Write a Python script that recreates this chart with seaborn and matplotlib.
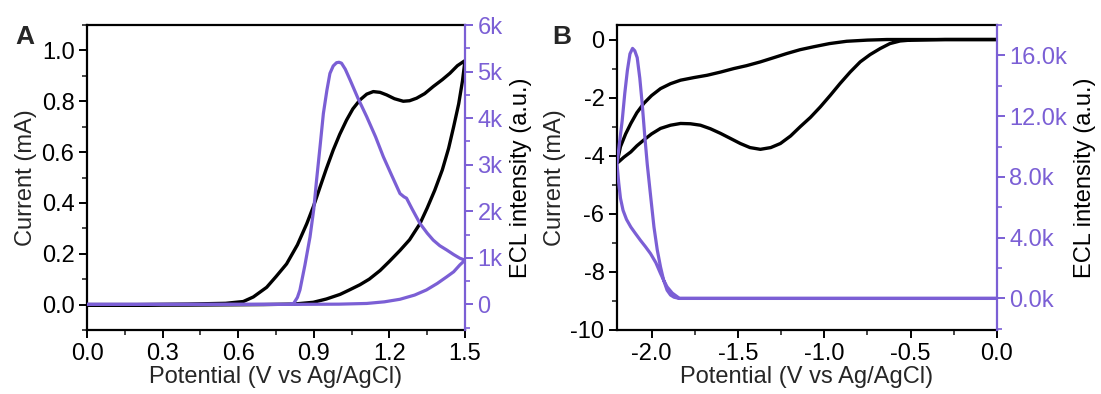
import numpy as np
import pandas as pd
import matplotlib
matplotlib.use("Agg")
import matplotlib.pyplot as plt
import seaborn as sns
from matplotlib.ticker import MultipleLocator, FuncFormatter

# ---------------- Data ----------------
# Panel A: CV current (mA) vs potential (V)
a_cv_fwd_x = [0.0, 0.2, 0.4, 0.55, 0.62, 0.66, 0.713, 0.75, 0.792, 0.835, 0.872, 0.90, 0.925,
              0.95, 0.977, 1.003, 1.03, 1.055, 1.083, 1.11, 1.136, 1.163, 1.189, 1.22, 1.255,
              1.28, 1.308, 1.34, 1.374, 1.41, 1.44, 1.47, 1.5]
a_cv_fwd_y = [0.0, 0.0, 0.002, 0.005, 0.012, 0.03, 0.068, 0.11, 0.16, 0.235, 0.318, 0.39, 0.463,
              0.535, 0.608, 0.67, 0.726, 0.77, 0.805, 0.828, 0.838, 0.835, 0.825, 0.81, 0.80,
              0.802, 0.812, 0.83, 0.858, 0.885, 0.91, 0.94, 0.96]
a_cv_rev_x = [1.5, 1.49, 1.475, 1.455, 1.435, 1.41, 1.38, 1.35, 1.321, 1.28, 1.242, 1.20, 1.163,
              1.12, 1.083, 1.04, 1.004, 0.95, 0.898, 0.82, 0.7, 0.4, 0.0]
a_cv_rev_y = [0.96, 0.88, 0.79, 0.70, 0.615, 0.53, 0.45, 0.38, 0.318, 0.255, 0.213, 0.17, 0.134,
              0.10, 0.078, 0.057, 0.04, 0.022, 0.009, 0.002, 0.0, -0.002, -0.003]

# Panel A: ECL intensity (counts) vs potential
a_ecl_fwd_x = [0.0, 0.5, 0.80, 0.82, 0.835, 0.845, 0.865, 0.885, 0.90, 0.911, 0.925, 0.938, 0.952,
               0.964, 0.977, 0.99, 1.0, 1.01, 1.025, 1.044, 1.075, 1.11, 1.145, 1.176, 1.21,
               1.242, 1.258, 1.268, 1.29, 1.321, 1.35, 1.374, 1.40, 1.427, 1.455, 1.48, 1.5]
a_ecl_fwd_y = [0, 0, 0, 20, 150, 310, 850, 1450, 2050, 2670, 3400, 4100, 4600,
               4960, 5120, 5190, 5200, 5180, 5050, 4820, 4430, 4030, 3600, 3170, 2760,
               2380, 2310, 2280, 2050, 1740, 1530, 1380, 1260, 1170, 1070, 990, 950]
a_ecl_rev_x = [1.5, 1.48, 1.455, 1.427, 1.39, 1.347, 1.30, 1.242, 1.18, 1.11, 1.0, 0.8, 0.0]
a_ecl_rev_y = [950, 850, 700, 590, 450, 310, 200, 110, 55, 20, 5, 0, 0]

# Panel B: CV current (mA)
b_cv_fwd_x = [0.0, -0.3, -0.5, -0.561, -0.62, -0.676, -0.735, -0.792, -0.85, -0.908, -0.965,
              -1.023, -1.08, -1.139, -1.195, -1.254, -1.31, -1.37, -1.43, -1.486, -1.545,
              -1.601, -1.66, -1.717, -1.775, -1.832, -1.89, -1.948, -2.0, -2.045, -2.085,
              -2.12, -2.16, -2.19, -2.2]
b_cv_fwd_y = [0.0, 0.0, -0.02, -0.05, -0.14, -0.31, -0.52, -0.77, -1.12, -1.51, -1.92,
              -2.32, -2.68, -3.0, -3.32, -3.58, -3.72, -3.78, -3.72, -3.58, -3.40,
              -3.23, -3.07, -2.95, -2.90, -2.89, -2.95, -3.06, -3.25, -3.46, -3.66,
              -3.87, -4.05, -4.21, -4.25]
b_cv_rev_x = [-2.2, -2.18, -2.15, -2.12, -2.085, -2.045, -2.0, -1.948, -1.89, -1.832, -1.755,
              -1.678, -1.60, -1.524, -1.45, -1.37, -1.29, -1.216, -1.14, -1.062, -0.97,
              -0.87, -0.75, -0.637, -0.3, 0.0]
b_cv_rev_y = [-4.25, -3.69, -3.25, -2.89, -2.52, -2.2, -1.93, -1.69, -1.52, -1.40, -1.31,
              -1.23, -1.12, -1.0, -0.90, -0.77, -0.62, -0.48, -0.35, -0.25, -0.14,
              -0.06, -0.02, 0.0, 0.0, 0.0]

# Panel B: ECL intensity (counts)
b_ecl_fwd_x = [0.0, -1.0, -1.84, -1.85, -1.88, -1.91, -1.93, -1.948, -1.975, -2.006, -2.035,
               -2.064, -2.095, -2.12, -2.145, -2.165, -2.18, -2.19, -2.2]
b_ecl_fwd_y = [0, 0, 0, 100, 350, 760, 1200, 1640, 2350, 2950, 3400,
               3820, 4300, 4700, 5200, 5800, 6600, 7600, 8850]
b_ecl_rev_x = [-2.2, -2.185, -2.17, -2.155, -2.14, -2.125, -2.11, -2.097, -2.083, -2.068,
               -2.054, -2.04, -2.025, -2.005, -1.986, -1.967, -1.948, -1.93, -1.91, -1.89,
               -1.87, -1.84, -1.7, 0.0]
b_ecl_rev_y = [8850, 10300, 11700, 13500, 15000, 16100, 16460, 16300, 15850, 14500,
               12800, 10800, 8850, 6700, 4700, 3200, 2070, 1200, 540, 220,
               80, 0, 0, 0]

x_label = "Potential (V vs Ag/AgCl)"
y_label = "Current (mA)"
y2_label = "ECL intensity (a.u.)"

# ---------------- Style ----------------
sns.set_style("ticks")
plt.rcParams['font.family'] = ['Liberation Sans', 'DejaVu Sans']
plt.rcParams['axes.unicode_minus'] = False
FS = 17
PURPLE = "#7B5FD5"

fig = plt.figure(figsize=(11.01, 3.94), dpi=100)
axA = fig.add_axes([87/1101, 64/394, 378/1101, 305/394])
axB = fig.add_axes([617/1101, 64/394, 380/1101, 305/394])


def loop_df(fx, fy, rx, ry):
    return pd.DataFrame({"x": list(fx) + list(rx), "y": list(fy) + list(ry)})


def style_axes(ax, ax2):
    for s in ["left", "top", "bottom"]:
        ax.spines[s].set_linewidth(1.6)
        ax.spines[s].set_color("black")
    ax.spines["right"].set_visible(False)
    for s in ["left", "top", "bottom"]:
        ax2.spines[s].set_visible(False)
    ax2.spines["right"].set_visible(True)
    ax2.spines["right"].set_color(PURPLE)
    ax2.spines["right"].set_linewidth(1.6)
    ax.tick_params(axis="both", which="major", direction="out", length=6, width=1.4,
                   labelsize=FS, pad=3, colors="black")
    ax.tick_params(axis="both", which="minor", direction="out", length=3.5, width=1.2)
    ax2.tick_params(axis="y", which="major", direction="out", length=6, width=1.4,
                    labelsize=FS, pad=3, colors=PURPLE)
    ax2.tick_params(axis="y", which="minor", direction="out", length=3.5, width=1.2,
                    colors=PURPLE)
    ax.set_xlabel(x_label, fontsize=FS, labelpad=1)
    ax.set_ylabel(y_label, fontsize=FS, labelpad=3)
    ax2.set_ylabel(y2_label, fontsize=FS, labelpad=5, color="black")


# ---------------- Panel A ----------------
axA2 = axA.twinx()
dfA_cv = loop_df(a_cv_fwd_x, a_cv_fwd_y, a_cv_rev_x, a_cv_rev_y)
dfA_ecl = loop_df(a_ecl_fwd_x, a_ecl_fwd_y, a_ecl_rev_x, a_ecl_rev_y)
sns.lineplot(data=dfA_cv, x="x", y="y", ax=axA, sort=False, estimator=None,
             color="black", linewidth=2.4)
sns.lineplot(data=dfA_ecl, x="x", y="y", ax=axA2, sort=False, estimator=None,
             color=PURPLE, linewidth=2.3)
axA.set_xlim(0, 1.5)
axA.set_ylim(-0.1, 1.1)
axA.xaxis.set_major_locator(MultipleLocator(0.3))
axA.xaxis.set_minor_locator(MultipleLocator(0.15))
axA.yaxis.set_major_locator(MultipleLocator(0.2))
axA.yaxis.set_minor_locator(MultipleLocator(0.1))
axA.xaxis.set_major_formatter(FuncFormatter(lambda v, p: f"{v:.1f}"))
axA.yaxis.set_major_formatter(FuncFormatter(lambda v, p: f"{v:.1f}"))
axA2.yaxis.set_major_locator(MultipleLocator(1000))
axA2.yaxis.set_minor_locator(MultipleLocator(500))
axA2.yaxis.set_major_formatter(FuncFormatter(lambda v, p: "0" if abs(v) < 1e-9 else f"{v/1000:.0f}k"))
style_axes(axA, axA2)

# ---------------- Panel B ----------------
axB2 = axB.twinx()
dfB_cv = loop_df(b_cv_fwd_x, b_cv_fwd_y, b_cv_rev_x, b_cv_rev_y)
dfB_ecl = loop_df(b_ecl_fwd_x, b_ecl_fwd_y, b_ecl_rev_x, b_ecl_rev_y)
sns.lineplot(data=dfB_cv, x="x", y="y", ax=axB, sort=False, estimator=None,
             color="black", linewidth=2.4)
sns.lineplot(data=dfB_ecl, x="x", y="y", ax=axB2, sort=False, estimator=None,
             color=PURPLE, linewidth=2.3)
axB.set_xlim(-2.2, 0)
axB.set_ylim(-10, 0.5)
axB.xaxis.set_major_locator(MultipleLocator(0.5))
axB.xaxis.set_minor_locator(MultipleLocator(0.25))
axB.yaxis.set_major_locator(MultipleLocator(2))
axB.yaxis.set_minor_locator(MultipleLocator(1))
axB.xaxis.set_major_formatter(FuncFormatter(lambda v, p: f"{v:.1f}"))
axB.yaxis.set_major_formatter(FuncFormatter(lambda v, p: f"{v:.0f}"))
axB2.yaxis.set_major_locator(MultipleLocator(4000))
axB2.yaxis.set_minor_locator(MultipleLocator(2000))
axB2.yaxis.set_major_formatter(FuncFormatter(lambda v, p: f"{v/1000:.1f}k"))
style_axes(axB, axB2)

axA2.set_ylim(-550, 6000)
axB2.set_ylim(-2080, 18000)

fig.text(25/1101, 1 - 37/394, "A", fontsize=19, fontweight="bold", ha="center", va="center")
fig.text(562/1101, 1 - 37/394, "B", fontsize=19, fontweight="bold", ha="center", va="center")

fig.savefig("out.png", dpi=100)
